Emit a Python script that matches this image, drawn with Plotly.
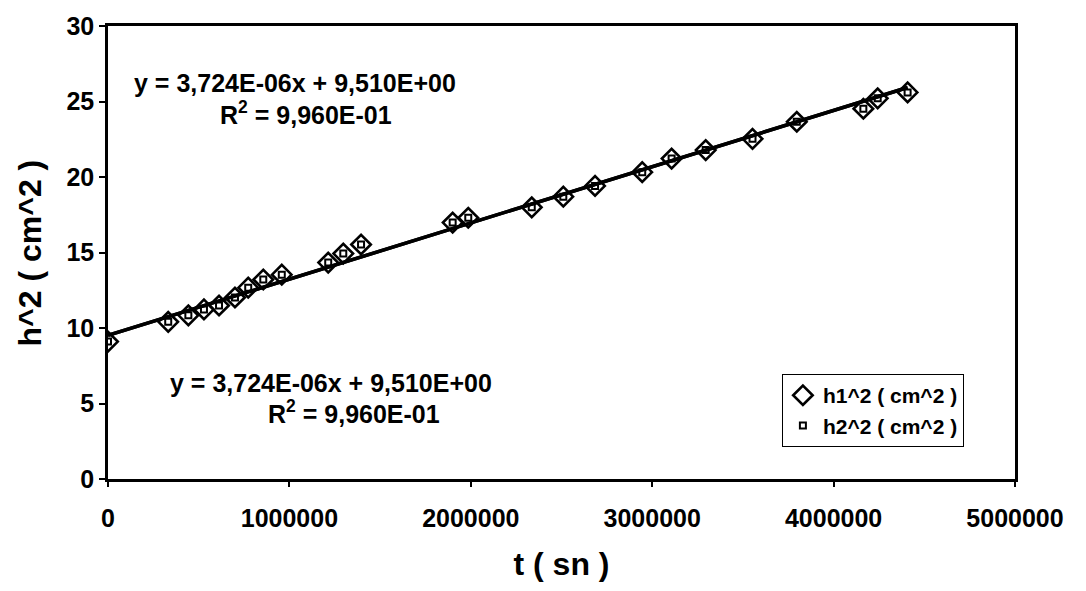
import plotly.graph_objects as go

# ---- data ----
t_sn = [0, 332000, 443000, 529000, 612000, 700000, 773000, 856000, 958000,
        1214000, 1297000, 1395000, 1900000, 1986000, 2336000, 2510000, 2685000,
        2945000, 3107000, 3295000, 3553000, 3797000, 4164000, 4243000, 4408000]
h1_sq = [9.1, 10.41, 10.84, 11.23, 11.49, 12.02, 12.67, 13.21, 13.53,
         14.33, 14.93, 15.53, 16.98, 17.30, 17.99, 18.70, 19.41,
         20.32, 21.22, 21.78, 22.53, 23.66, 24.52, 25.21, 25.60]
h2_sq = [9.1, 10.41, 10.84, 11.23, 11.49, 12.02, 12.67, 13.21, 13.53,
         14.33, 14.93, 15.53, 16.98, 17.30, 17.99, 18.70, 19.41,
         20.32, 21.22, 21.78, 22.53, 23.66, 24.52, 25.21, 25.60]

# trendline coefficients printed on the chart
fit_slope = 3.724e-06
fit_intercept = 9.510

x_ticks = [0, 1000000, 2000000, 3000000, 4000000, 5000000]
x_ticklabels = ["0", "1000000", "2000000", "3000000", "4000000", "5000000"]
y_ticks = [0, 5, 10, 15, 20, 25, 30]

eq_text = "y = 3,724E-06x + 9,510E+00"
r2_text = "R<sup>2</sup> = 9,960E-01"
x_title = "t ( sn )"
y_title = "h^2 ( cm^2 )"

FONT = "Arial, 'Liberation Sans', sans-serif"

fig = go.Figure()

fit_x = [0, max(t_sn)]
fit_y = [fit_slope * v + fit_intercept for v in fit_x]

# trendlines (h1 and h2 give the same fit)
for _ in range(2):
    fig.add_trace(go.Scatter(x=fit_x, y=fit_y, mode="lines",
                             line=dict(color="black", width=3.5),
                             showlegend=False, hoverinfo="skip"))

fig.add_trace(go.Scatter(x=t_sn, y=h1_sq, mode="markers", name="h1^2 ( cm^2 )",
                         marker=dict(symbol="diamond-open", size=15, color="black",
                                     line=dict(width=2.6, color="black"))))
fig.add_trace(go.Scatter(x=t_sn, y=h2_sq, mode="markers", name="h2^2 ( cm^2 )",
                         marker=dict(symbol="square-open", size=6, color="black",
                                     line=dict(width=2, color="black"))))

annots = [
    (eq_text, 0.206, 0.874),
    (r2_text, 0.218, 0.807),
    (eq_text, 0.246, 0.212),
    (r2_text, 0.271, 0.147),
]
for txt, ax_, ay_ in annots:
    fig.add_annotation(text=txt, x=ax_, y=ay_, xref="paper", yref="paper",
                       showarrow=False, xanchor="center", yanchor="middle",
                       font=dict(family=FONT, size=25, color="black", weight="bold"))

# y-axis title placed as rotated text
fig.add_annotation(text=y_title, x=-0.086, y=0.5, xref="paper", yref="paper",
                   showarrow=False, textangle=-90, xanchor="center", yanchor="middle",
                   font=dict(family=FONT, size=32, color="black", weight="bold"))

fig.update_layout(
    width=1086, height=591,
    margin=dict(l=108, r=71, t=17, b=112),
    paper_bgcolor="white", plot_bgcolor="rgba(0,0,0,0)",
    font=dict(family=FONT, color="black"),
    legend=dict(x=0.743, y=0.2316, xanchor="left", yanchor="top",
                bordercolor="black", borderwidth=1, bgcolor="white",
                font=dict(family=FONT, size=21, color="black", weight="bold"),
                tracegroupgap=0),
    xaxis=dict(range=[0, 5000000], tickmode="array", tickvals=x_ticks,
               ticktext=x_ticklabels, showgrid=False, zeroline=False,
               showline=True, linecolor="black", linewidth=2.5, mirror=True,
               ticks="outside", ticklen=5, tickwidth=1.5, tickcolor="black",
               tickfont=dict(family=FONT, size=25, color="black", weight="bold"),
               ticklabelstandoff=10,
               title=dict(text=x_title, standoff=22,
                          font=dict(family=FONT, size=32, color="black", weight="bold"))),
    yaxis=dict(range=[0, 30], tickmode="array", tickvals=y_ticks,
               showgrid=False, zeroline=False,
               showline=True, linecolor="black", linewidth=2.5, mirror=True,
               ticks="outside", ticklen=6, tickwidth=1.5, tickcolor="black",
               tickfont=dict(family=FONT, size=25, color="black", weight="bold")),
)

fig.write_html("out.html")
